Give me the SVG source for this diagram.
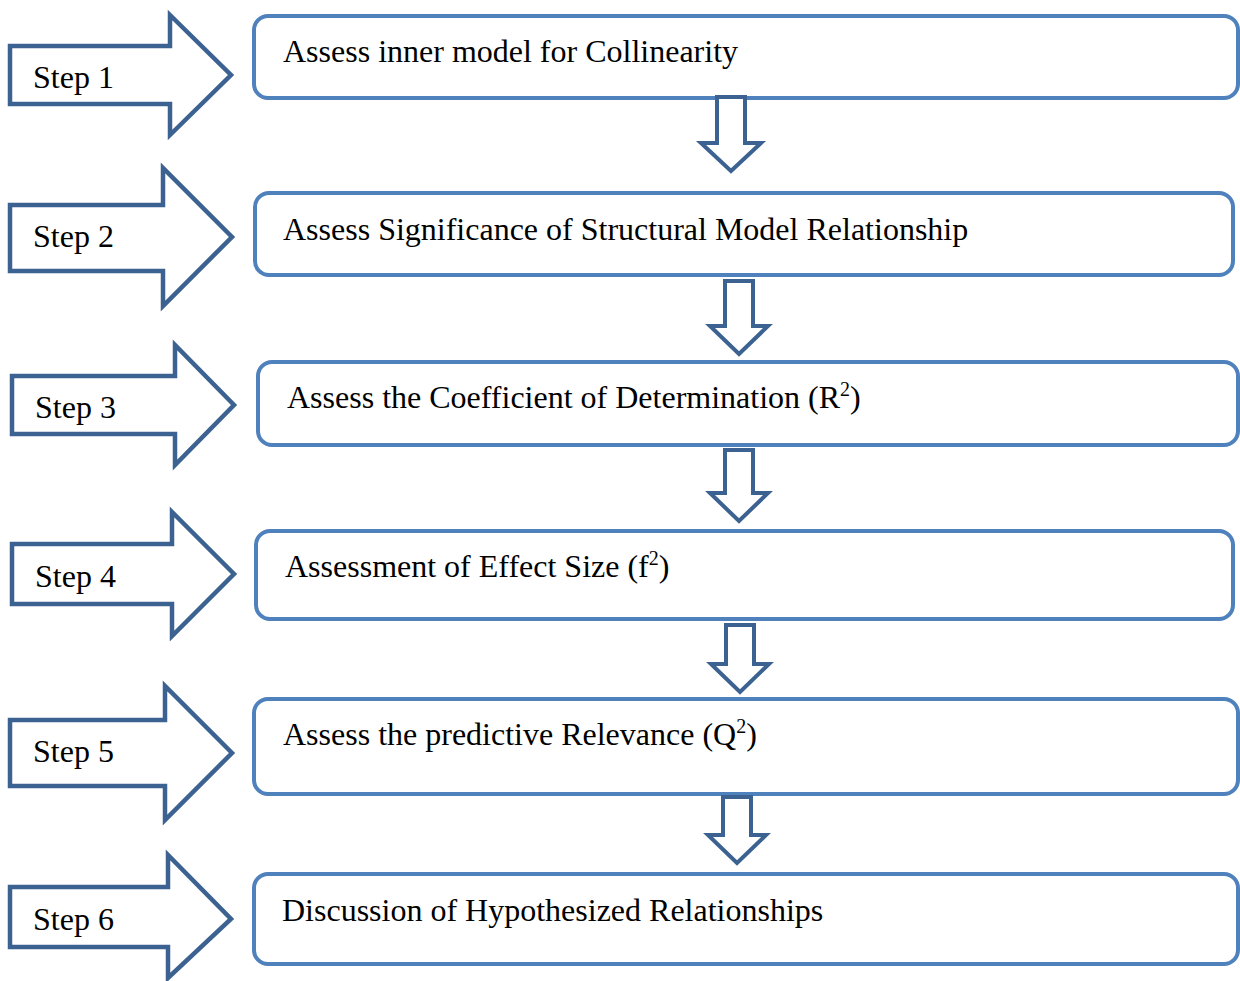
<svg xmlns="http://www.w3.org/2000/svg" width="1240" height="981" viewBox="0 0 1240 981">
  <style>
    .step { fill: #ffffff; stroke: #3c6291; stroke-width: 4.5; stroke-linejoin: miter; }
    .box { fill: #ffffff; stroke: #4f81bd; stroke-width: 4; }
    .down { fill: #ffffff; stroke: #3c6291; stroke-width: 4; stroke-linejoin: miter; }
    .lbl { font-family: "Liberation Serif", "Times New Roman", serif; font-size: 32px; fill: #000000; }
    .sup { font-size: 20px; }
  </style>
  <rect width="1240" height="981" fill="#ffffff"/>

  <!-- step arrows (left column) -->
  <g id="step1">
    <polygon class="step" points="10,46 170,46 170,15 231,75 170,135 170,104 10,104"/>
    <text class="lbl" x="33" y="88">Step 1</text>
  </g>
  <g id="step2">
    <polygon class="step" points="10,205 163,205 163,168 232,237 163,306 163,271 10,271"/>
    <text class="lbl" x="33" y="247">Step 2</text>
  </g>
  <g id="step3">
    <polygon class="step" points="12,376 175,376 175,345 234,405 175,465 175,434 12,434"/>
    <text class="lbl" x="35" y="418">Step 3</text>
  </g>
  <g id="step4">
    <polygon class="step" points="12,544 172,544 172,512 234,574 172,636 172,604 12,604"/>
    <text class="lbl" x="35" y="587">Step 4</text>
  </g>
  <g id="step5">
    <polygon class="step" points="10,720 165,720 165,686 232,753 165,820 165,786 10,786"/>
    <text class="lbl" x="33" y="762">Step 5</text>
  </g>
  <g id="step6">
    <polygon class="step" points="10,887 168,887 168,855 231,919 168,978 168,947 10,947"/>
    <text class="lbl" x="33" y="930">Step 6</text>
  </g>

  <!-- task boxes (right column) -->
  <g id="box1">
    <rect class="box" x="254" y="16" width="984" height="82" rx="14"/>
    <text class="lbl" x="283" y="62">Assess inner model for Collinearity</text>
  </g>
  <g id="box2">
    <rect class="box" x="255" y="193" width="978" height="82" rx="14"/>
    <text class="lbl" x="283" y="240">Assess Significance of Structural Model Relationship</text>
  </g>
  <g id="box3">
    <rect class="box" x="258" y="362" width="980" height="83" rx="14"/>
    <text class="lbl" x="287" y="408">Assess the Coefficient of Determination (R<tspan class="sup" dy="-12">2</tspan><tspan dy="12">)</tspan></text>
  </g>
  <g id="box4">
    <rect class="box" x="256" y="531" width="977" height="88" rx="14"/>
    <text class="lbl" x="285" y="577">Assessment of Effect Size (f<tspan class="sup" dy="-12">2</tspan><tspan dy="12">)</tspan></text>
  </g>
  <g id="box5">
    <rect class="box" x="254" y="699" width="984" height="95" rx="14"/>
    <text class="lbl" x="283" y="745">Assess the predictive Relevance (Q<tspan class="sup" dy="-12">2</tspan><tspan dy="12">)</tspan></text>
  </g>
  <g id="box6">
    <rect class="box" x="254" y="874" width="984" height="90" rx="14"/>
    <text class="lbl" x="282" y="921">Discussion of Hypothesized Relationships</text>
  </g>

  <!-- connectors between boxes -->
  <g id="connectors">
    <polygon class="down" points="717,97 745,97 745,143 761,143 731,171 701,143 717,143"/>
    <polygon class="down" points="725,281 753,281 753,326 768,326 739,354 710,326 725,326"/>
    <polygon class="down" points="725,450 753,450 753,493 768,493 739,521 710,493 725,493"/>
    <polygon class="down" points="726,625 754,625 754,664 769,664 740,692 711,664 726,664"/>
    <polygon class="down" points="723,797 751,797 751,835 766,835 737,863 708,835 723,835"/>
  </g>
</svg>
